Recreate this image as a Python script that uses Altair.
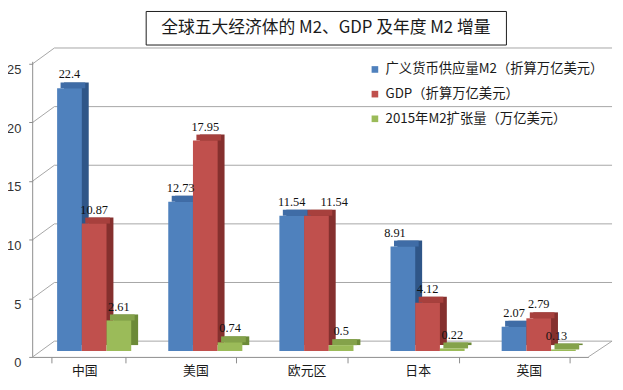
import altair as alt
import pandas as pd

countries = ["中国", "美国", "欧元区", "日本", "英国"]
series = ["广义货币供应量M2（折算万亿美元）", "GDP（折算万亿美元）", "2015年M2扩张量（万亿美元）"]
m2 = [22.4, 12.73, 11.54, 8.91, 2.07]
gdp = [10.87, 17.95, 11.54, 4.12, 2.79]
m2_growth = [2.61, 0.74, 0.5, 0.22, 0.13]
m2_labels = ["22.4", "12.73", "11.54", "8.91", "2.07"]
gdp_labels = ["10.87", "17.95", "11.54", "4.12", "2.79"]
growth_labels = ["2.61", "0.74", "0.5", "0.22", "0.13"]
y_ticks = [0, 5, 10, 15, 20, 25]
title_text = "全球五大经济体的 M2、GDP 及年度 M2 增量"

# styling
front_colors = ["#4F81BD", "#C0504D", "#9BBB59"]
top_colors = ["#3F6CA6", "#A7403D", "#84A24A"]
side_colors = ["#2F5688", "#85302E", "#6C8A38"]
# horizontal nudges of a few data labels (pixels), as placed in the original
label_nudges = [("欧元区", series[1], 18), ("日本", series[0], -8), ("英国", series[2], -7)]

rows = []
for vals, labs, s in [(m2, m2_labels, series[0]), (gdp, gdp_labels, series[1]), (m2_growth, growth_labels, series[2])]:
    for c, v, l in zip(countries, vals, labs):
        rows.append({"country": c, "series": s, "value": v, "label": l})
df = pd.DataFrame(rows)
ticks_df = pd.DataFrame({"tick": y_ticks})
one_df = ticks_df[ticks_df.tick == 0]

W, H = 563, 297
GRID = "#A6A6A6"
SHIFT = 6


def xenc(shift, axis=None):
    return alt.X("country:N", sort=countries,
                 scale=alt.Scale(domain=countries, paddingInner=1/3, paddingOuter=1/6,
                                 range=[shift, W + shift]),
                 axis=axis)


XO = alt.XOffset("series:N", sort=series, scale=alt.Scale(domain=series))
yscale = alt.Scale(domain=[0, 25], nice=False)

x_axis = alt.Axis(title=None, offset=6, tickBand="extent", tickSize=6,
                  tickColor="#8C8C8C", domainColor="#8C8C8C", labelAngle=0,
                  labelFont="Noto Sans CJK SC", labelFontSize=13, labelColor="#1A1A1A",
                  labelPadding=2, labelOffset=-4, grid=False)

grid_back = alt.Chart(ticks_df).mark_rule(color=GRID, strokeWidth=1, yOffset=-10).encode(
    y=alt.Y("tick:Q", scale=yscale,
            axis=alt.Axis(title=None, values=y_ticks, domain=False, grid=False,
                          tickSize=4, tickColor="#8C8C8C", tickOffset=6, labelOffset=6,
                          labelFont="Liberation Sans", labelFontSize=13, labelColor="#333333",
                          labelPadding=8)),
    x=alt.value(22), x2=alt.value(587))

grid_slant = alt.Chart(ticks_df).mark_rule(color=GRID, strokeWidth=1, yOffset=6, y2Offset=-10).encode(
    y=alt.Y("tick:Q", scale=yscale), y2="tick:Q", x=alt.value(0), x2=alt.value(22))

floor_right = alt.Chart(one_df).mark_rule(color=GRID, strokeWidth=1, yOffset=6, y2Offset=-10).encode(
    y=alt.Y("tick:Q", scale=yscale), y2="tick:Q", x=alt.value(W), x2=alt.value(W + 24))

y_domain = alt.Chart(one_df).mark_rule(color="#8C8C8C", strokeWidth=1).encode(
    x=alt.value(0), y=alt.value(4), y2=alt.value(H + 6))

axis_layer = alt.Chart(df).mark_point(opacity=0).encode(
    x=xenc(0, x_axis), y=alt.Y("value:Q", scale=yscale))

side = alt.Chart(df).mark_bar(yOffset=-6, y2Offset=-6).encode(
    x=xenc(SHIFT + 7), xOffset=XO,
    y=alt.Y("value:Q", scale=yscale, stack=None), y2=alt.datum(0),
    color=alt.Color("series:N", scale=alt.Scale(domain=series, range=side_colors), legend=None))

top = alt.Chart(df).mark_bar(yOffset=-6, y2Offset=0).encode(
    x=xenc(SHIFT + 3.5), xOffset=XO,
    y=alt.Y("value:Q", scale=yscale, stack=None), y2="value:Q",
    color=alt.Color("series:N", scale=alt.Scale(domain=series, range=top_colors), legend=None))

front = alt.Chart(df).mark_bar().encode(
    x=xenc(SHIFT), xOffset=XO,
    y=alt.Y("value:Q", scale=yscale, stack=None), y2=alt.datum(0),
    color=alt.Color("series:N", sort=series,
                    scale=alt.Scale(domain=series, range=front_colors),
                    legend=alt.Legend(title=None, orient="none", legendX=340, legendY=5,
                                      symbolType="square", symbolSize=45, symbolStrokeWidth=0,
                                      labelFont="Noto Sans CJK SC", labelFontSize=13.5,
                                      labelColor="#1A1A1A", labelLimit=400, rowPadding=10)))


def label_layer(dx, filt):
    return alt.Chart(df).transform_filter(filt).mark_text(
        dx=dx, dy=-14, font="Liberation Serif", fontSize=12.5, color="#111111", baseline="middle").encode(
        x=xenc(SHIFT), xOffset=XO, y=alt.Y("value:Q", scale=yscale, stack=None), text="label:N")


not_nudged = " && ".join(
    f"!(datum.country === '{c}' && datum.series === '{s}')" for c, s, _ in label_nudges)
label_layers = [label_layer(0, not_nudged)]
for c, s, d in label_nudges:
    label_layers.append(label_layer(d, f"datum.country === '{c}' && datum.series === '{s}'"))

title_box = alt.Chart(one_df).mark_rect(fill="white", stroke="#1A1A1A", strokeWidth=1).encode(
    x=alt.value(115), x2=alt.value(480), y=alt.value(-47), y2=alt.value(-13))

title = alt.Chart(one_df).mark_text(
    font="Noto Sans CJK SC", fontSize=17, color="#1A1A1A", align="center", baseline="middle").encode(
    x=alt.value(297), y=alt.value(-30), text=alt.value(title_text))

chart = alt.layer(grid_back, grid_slant, floor_right, y_domain, axis_layer, side, top, front,
                  *label_layers, title_box, title).resolve_scale(
    x="independent", xOffset="independent", color="independent").properties(
    width=W, height=H,
    padding={"left": 25, "top": 48, "right": 27, "bottom": 37},
    autosize=alt.AutoSizeParams(type="none"),
).configure_view(stroke=None)

chart.save("out.html", embed_options={"renderer": "svg", "actions": False})
